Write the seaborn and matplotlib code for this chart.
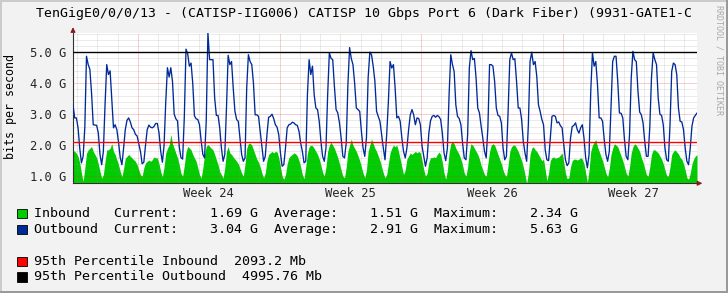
import numpy as np
import pandas as pd
import matplotlib
matplotlib.use("Agg")
import matplotlib.pyplot as plt
import seaborn as sns
from matplotlib.ticker import FixedLocator, FuncFormatter, MultipleLocator
from matplotlib.patches import Rectangle

# ---------------- data ----------------
title = "TenGigE0/0/0/13 - (CATISP-IIG006) CATISP 10 Gbps Port 6 (Dark Fiber) (9931-GATE1-C"
y_label = "bits per second"
watermark = "RRDTOOL / TOBI OETIKER"
week_labels = ["Week 24", "Week 25", "Week 26", "Week 27"]
week_start_h = [77, 245, 413, 581]      # hours since start of the graph
span_h = 740                            # hours shown
sample_step_h = 2                       # hours between samples
y_range = (0.77, 5.63)                  # G (rrdtool alt-autoscale)
y_ticks = [1.0, 2.0, 3.0, 4.0, 5.0]

# Outbound traffic, G, one value every 2 hours
outbound = [
    3.3, 2.88, 2.88, 2.56, 1.9, 1.43, 1.64, 2.56, 4.87, 4.6,
    4.45, 3.68, 2.66, 2.65, 2.64, 2.4, 1.7, 1.37, 1.8, 3.3,
    4.6, 4.28, 4.4, 3.5, 2.56, 2.66, 2.5, 2.1, 1.6, 1.37,
    1.9, 2.5, 2.8, 2.88, 2.75, 2.56, 2.5, 2.35, 2.3, 2.05,
    1.8, 1.4, 1.45, 2.0, 2.5, 2.65, 2.58, 2.56, 2.6, 2.7,
    2.7, 2.4, 1.8, 1.45, 2.0, 3.4, 4.5, 4.2, 4.5, 4.05,
    3.0, 2.85, 2.78, 1.95, 1.6, 1.55, 2.9, 5.1, 4.95, 4.55,
    4.65, 4.0, 2.95, 2.85, 2.83, 2.66, 2.13, 1.7, 1.59, 2.77,
    5.63, 4.76, 4.76, 4.76, 3.52, 2.96, 2.96, 2.56, 1.91, 1.48,
    1.7, 3.2, 4.9,
    4.6, 4.7, 3.85, 3.1, 2.83, 2.77, 2.23, 1.7, 1.48, 1.59,
    3.85, 4.92, 4.7, 4.6, 4.0, 2.98, 2.98, 2.93, 2.45, 1.96,
    1.48, 1.64, 2.34, 2.9, 2.93, 3.0, 2.86, 2.66, 2.58, 2.34,
    1.75, 1.32, 1.37, 1.91, 2.56, 2.66, 2.68, 2.74, 2.72, 2.66,
    2.64, 2.45, 2.07, 1.8, 1.43, 1.48, 3.63, 4.76, 4.28, 4.55,
    3.63, 3.2, 3.15, 2.77, 2.13, 1.64, 1.48, 1.91, 3.63, 4.98,
    4.8, 4.76, 3.9, 3.15, 3.04, 2.72, 2.23, 1.64, 1.59, 2.07,
    3.95, 5.15, 4.8, 4.6, 4.0, 3.2, 3.15, 3.09, 2.45, 1.91,
    1.64, 2.23, 4.17, 5.0, 4.92, 4.55, 4.06, 3.09, 2.93, 2.77,
    2.34, 1.91, 1.53,
    2.34, 3.4, 4.7, 4.49, 4.6, 3.85, 2.88, 2.93, 2.77, 2.23,
    1.8, 1.59, 1.91, 2.5, 2.98, 3.15, 2.98, 2.66, 2.88, 2.86,
    2.66, 1.96, 1.64, 1.32, 1.59, 2.39, 2.79, 2.93, 2.96, 2.9,
    2.96, 2.92, 2.83, 2.39, 1.75, 1.5, 1.91, 3.63, 4.92, 4.6,
    4.38, 3.3, 2.93, 2.86, 2.66, 2.07, 1.59, 1.53, 2.34, 4.49,
    5.05, 4.76, 4.8, 4.17, 3.2, 3.04, 2.61, 2.23, 1.8, 1.59,
    2.56, 4.6, 4.6, 4.55, 4.06, 3.2, 2.96, 2.93, 2.72, 1.91,
    1.53, 1.64, 3.09, 4.76, 4.98, 4.76, 4.79, 4.06, 3.2, 3.2,
    2.83, 2.13, 1.75, 1.48, 2.66, 4.7, 5.0, 4.6, 4.7, 4.22,
    3.3, 3.09, 2.83,
    2.66, 1.85, 1.53, 1.5, 2.23, 2.93, 2.96, 2.93, 2.72, 2.75,
    2.63, 2.56, 2.02, 1.53, 1.34, 1.43, 2.23, 2.6, 2.64, 2.72,
    2.5, 2.39, 2.56, 2.66, 2.23, 1.59, 1.27, 1.7, 3.74, 4.98,
    4.55, 4.7, 3.95, 2.88, 2.88, 2.77, 2.18, 1.7, 1.48, 1.8,
    3.2, 4.7, 4.87, 4.87, 4.06, 3.04, 3.03, 2.88, 2.18, 1.64,
    1.53, 2.34, 4.17, 5.03, 4.76, 4.7, 3.74, 3.07, 2.98, 2.72,
    2.13, 1.64, 1.64, 2.56, 4.17, 4.98, 4.76, 4.6, 3.52, 3.0,
    2.96, 2.66, 1.91, 1.53, 1.48, 2.66, 4.38, 4.65, 4.6, 4.28,
    3.2, 2.77, 2.75, 2.5, 1.91, 1.48, 1.37, 1.91, 2.61, 2.88,
    2.96, 3.04,
]

# Inbound traffic, G, one value every 2 hours
inbound = [
    1.84, 1.80, 1.74, 1.64, 1.43, 1.1, 0.83, 1.25, 1.74, 1.85,
    1.9, 1.96, 1.8, 1.7, 1.6, 1.4, 1.15, 0.94, 1.05, 1.48,
    1.85, 1.85, 1.9, 2.05, 1.8, 1.7, 1.53, 1.37, 1.15, 0.98,
    1.25, 1.58, 1.64, 1.7, 1.64, 1.59, 1.53, 1.48, 1.37, 1.2,
    1.05, 1.0, 1.27, 1.43, 1.48, 1.52, 1.48, 1.53, 1.62, 1.59,
    1.59, 1.4, 1.15, 0.98, 1.3, 1.75, 1.9, 2.0, 2.34, 2.05,
    1.9, 1.74, 1.59, 1.37, 1.1, 1.0, 1.35, 1.78, 1.96, 1.91,
    1.85, 1.7, 1.59, 1.48, 1.27, 1.05, 0.94, 1.27, 1.7, 1.96,
    2.02, 1.96, 1.9, 1.85, 1.7, 1.53, 1.37, 1.15, 1.05, 0.94,
    1.27, 1.8, 1.96,
    1.75, 1.7, 1.62, 1.55, 1.48, 1.4, 1.25, 1.1, 1.0, 1.4,
    1.9, 2.05, 2.07, 2.0, 1.85, 1.7, 1.55, 1.45, 1.3, 1.1,
    0.95, 1.1, 1.5, 1.7, 1.75, 1.8, 1.75, 1.8, 1.78, 1.6,
    1.3, 1.0, 0.9, 1.05, 1.4, 1.6, 1.66, 1.7, 1.75, 1.72,
    1.65, 1.5, 1.3, 1.05, 0.92, 1.3, 1.75, 1.95, 2.0, 1.98,
    1.9, 1.8, 1.7, 1.55, 1.35, 1.12, 1.0, 1.3, 1.8, 2.0,
    2.1, 2.0, 1.9, 1.75, 1.6, 1.4, 1.2, 1.0, 0.95, 1.3,
    1.8, 2.0, 2.2, 2.0, 1.9, 1.8, 1.65, 1.5, 1.3, 1.1,
    0.95, 1.2, 1.8, 2.0, 2.2, 2.05, 1.9, 1.8, 1.65, 1.5,
    1.3, 1.1, 0.95,
    1.05, 1.4, 1.75, 1.9, 2.0, 1.95, 2.0, 1.8, 1.55, 1.3,
    1.05, 1.2, 1.55, 1.65, 1.75, 1.7, 1.75, 1.8, 1.75, 1.8,
    1.75, 1.5, 1.2, 1.0, 1.1, 1.45, 1.6, 1.6, 1.62, 1.6,
    1.7, 1.78, 1.7, 1.45, 1.1, 0.9, 1.2, 1.75, 2.05, 2.13,
    2.05, 1.9, 1.8, 1.7, 1.55, 1.35, 1.1, 1.0, 1.3, 1.8,
    2.05, 2.0, 1.9, 1.8, 1.7, 1.55, 1.35, 1.2, 1.05, 1.0,
    1.4, 1.8, 2.0, 2.05, 2.0, 1.85, 1.7, 1.55, 1.4, 1.2,
    1.05, 1.0, 1.35, 1.8, 1.95, 2.0, 2.0, 1.9, 1.8, 1.65,
    1.5, 1.3, 1.05, 0.77, 1.1, 1.7, 1.9, 1.95, 1.85, 1.8,
    1.7, 1.6, 1.5,
    1.55, 1.2, 0.85, 1.1, 1.5, 1.6, 1.62, 1.58, 1.6, 1.62,
    1.68, 1.75, 1.45, 1.1, 0.92, 0.95, 1.3, 1.5, 1.55, 1.55,
    1.52, 1.55, 1.6, 1.55, 1.4, 1.1, 0.8, 1.2, 1.8, 2.0,
    2.1, 2.18, 1.95, 1.8, 1.65, 1.5, 1.3, 1.1, 0.98, 1.25,
    1.7, 1.9, 2.05, 2.0, 1.95, 1.8, 1.65, 1.5, 1.3, 1.1,
    1.0, 1.3, 1.75, 1.95, 2.05, 2.0, 1.9, 1.8, 1.6, 1.45,
    1.25, 1.05, 1.0, 1.3, 1.7, 1.85, 1.85, 1.8, 1.75, 1.65,
    1.55, 1.4, 1.2, 1.02, 1.0, 1.3, 1.7, 1.8, 1.85, 1.78,
    1.72, 1.6, 1.55, 1.4, 1.2, 0.95, 0.9, 1.1, 1.4, 1.55,
    1.65, 1.69,
]

series_names = ["Inbound", "Outbound"]
current = [1.69, 3.04]
average = [1.51, 2.91]
maximum = [2.34, 5.63]
p95_names = ["Inbound", "Outbound"]
p95_mb = ["2093.2", "4995.76"]

# ---------------- styling ----------------
C_IN = "#00CC00"
C_OUT = "#002A97"
C_P95 = ["#FF0000", "#000000"]
BG = "#F2F2F2"
MONO = "DejaVu Sans Mono"
W, H = 728, 293

sns.set_style("white")
plt.rcParams["font.family"] = [MONO, "DejaVu Sans"]

df = pd.DataFrame({
    "hours": np.arange(len(outbound)) * sample_step_h,
    "inbound": inbound,
    "outbound": outbound,
})

fig = plt.figure(figsize=(W / 100, H / 100), dpi=100)
fig.patch.set_facecolor(BG)
ax = fig.add_axes([73 / W, 1 - 183.3 / H, 624 / W, (183.3 - 32.7) / H])
ax.set_facecolor("white")

ax.fill_between(df["hours"], 0, df["inbound"], color=C_IN, lw=0, zorder=1)
sns.lineplot(data=df, x="hours", y="outbound", ax=ax, color=C_OUT,
             lw=0.95, zorder=3)
ax.axhline(float(p95_mb[0]) / 1000, color=C_P95[0], lw=1.0, zorder=3.2)
ax.axhline(float(p95_mb[1]) / 1000, color=C_P95[1], lw=1.0, zorder=3.2)

ax.set_xlim(0, span_h)
ax.set_ylim(*y_range)
ax.set_xlabel("")
ax.set_ylabel("")

ax.yaxis.set_major_locator(FixedLocator(y_ticks))
ax.yaxis.set_minor_locator(MultipleLocator(0.2))
ax.yaxis.set_major_formatter(FuncFormatter(lambda v, p: f"{v:.1f} G"))
ax.xaxis.set_major_locator(FixedLocator(week_start_h))
ax.xaxis.set_minor_locator(FixedLocator(np.arange(week_start_h[0] % 24, span_h, 24)))

ax.set_axisbelow(False)
ax.grid(which="major", color="#DE3030", alpha=0.45, lw=0.72, ls=(0, (1, 1)))
ax.grid(which="minor", color="#8F8F8F", alpha=0.35, lw=0.72, ls=(0, (1, 1)))

ax.tick_params(axis="y", which="major", direction="out", length=2, width=0.7,
               color="#404040", labelsize=8.7, pad=3)
ax.tick_params(axis="y", which="minor", direction="out", length=1.5, width=0.6,
               color="#606060")
ax.tick_params(axis="x", which="both", direction="out", length=1.5, width=0.6,
               color="#606060", labelbottom=False)
for s in ["top", "right"]:
    ax.spines[s].set_visible(False)
for s in ["left", "bottom"]:
    ax.spines[s].set_color("#303030")
    ax.spines[s].set_linewidth(0.8)

secax = ax.secondary_xaxis("bottom")
secax.set_xticks([w + 84 for w in week_start_h], labels=week_labels)
secax.tick_params(length=0, pad=2.5, labelsize=8.7)
secax.spines["bottom"].set_visible(False)

# axis arrows
arrow_kw = dict(arrowstyle="-|>", color="#8B1A1A", lw=0.8, mutation_scale=7)
ax.annotate("", xy=(0, 1.055), xytext=(0, 0.995), xycoords="axes fraction",
            arrowprops=arrow_kw, annotation_clip=False)
ax.annotate("", xy=(1.013, 0), xytext=(0.995, 0), xycoords="axes fraction",
            arrowprops=arrow_kw, annotation_clip=False)

def px(x, y):
    return x / W, 1 - y / H

# title, labels, watermark
fig.text(*px(36, 14), title, ha="left", va="center", fontsize=9.55, color="black")
fig.text(*px(11, 106.5), y_label, rotation=90, ha="center", va="center",
         fontsize=8.4, color="black")
fig.text(*px(719, 60), watermark, rotation=270, ha="center", va="center",
         fontsize=6, color="#A8A8A8")

# legend
rows = []
for name, cur, avg, mx, col in zip(series_names, current, average, maximum, [C_IN, C_OUT]):
    rows.append((f"{name:<10}Current:{cur:>8.2f} G  Average:{avg:>8.2f} G  Maximum:{mx:>8.2f} G", col))
for name, val, col in zip(p95_names, p95_mb, C_P95):
    rows.append((f"95th Percentile {name}  {val} Mb", col))
row_y = [213.3, 229.3, 261.7, 277.0]
for (txt, col), y in zip(rows, row_y):
    fig.add_artist(Rectangle(px(17.3, y + 4.7), 9.4 / W, 9.4 / H, transform=fig.transFigure,
                             facecolor=col, edgecolor="black", lw=0.6))
    fig.text(*px(34.3, y), txt, ha="left", va="center", fontsize=9.65, color="black")

# frame shading
fig.add_artist(Rectangle((0, 0), 2 / W, 1, transform=fig.transFigure, color="#CBCBCB", lw=0))
fig.add_artist(Rectangle((0, 1 - 2 / H), 1, 2 / H, transform=fig.transFigure, color="#CBCBCB", lw=0))
fig.add_artist(Rectangle((1 - 2 / W, 0), 2 / W, 1, transform=fig.transFigure, color="#999999", lw=0))
fig.add_artist(Rectangle((0, 0), 1, 2 / H, transform=fig.transFigure, color="#999999", lw=0))

fig.savefig("out.png", dpi=100, facecolor=fig.get_facecolor())
